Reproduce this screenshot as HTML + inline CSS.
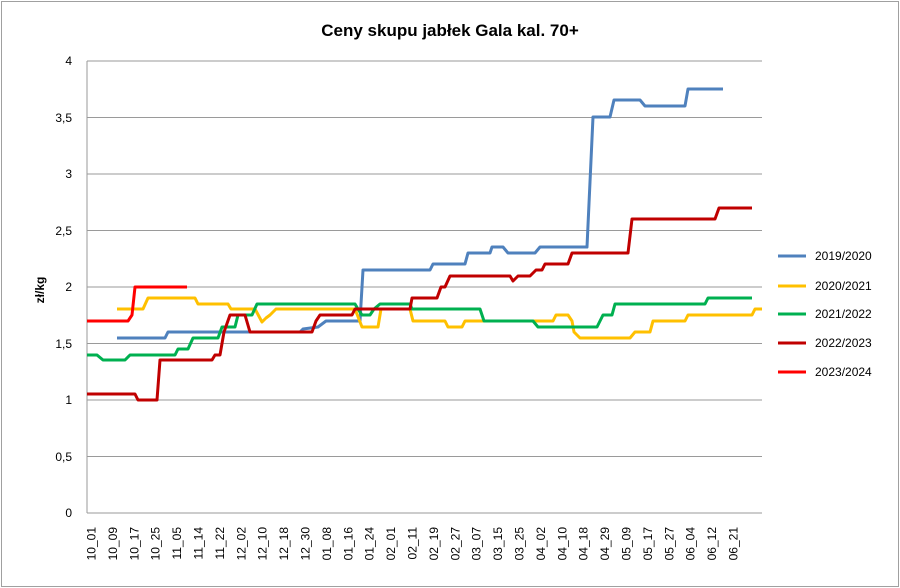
<!DOCTYPE html><html><head><style>body{margin:0;background:#fff}svg{display:block;font-family:"Liberation Sans",sans-serif}</style></head><body>
<svg width="900" height="588" viewBox="0 0 900 588">
<rect x="1.5" y="1.5" width="897" height="585" fill="#fff" stroke="#a0a0a0"/>
<text x="450" y="36" text-anchor="middle" font-size="17" font-weight="bold">Ceny skupu jabłek Gala kal. 70+</text>
<g stroke="#9a9a9a" stroke-width="1">
<line x1="87" y1="61" x2="762" y2="61"/><line x1="87" y1="117.5" x2="762" y2="117.5"/><line x1="87" y1="174" x2="762" y2="174"/><line x1="87" y1="230.5" x2="762" y2="230.5"/><line x1="87" y1="287" x2="762" y2="287"/><line x1="87" y1="343.5" x2="762" y2="343.5"/><line x1="87" y1="400" x2="762" y2="400"/><line x1="87" y1="456.5" x2="762" y2="456.5"/><line x1="87" y1="513" x2="762" y2="513"/><line x1="87" y1="61" x2="87" y2="513"/>
</g>
<g font-size="12" text-anchor="end">
<text x="72" y="65">4</text><text x="72" y="122">3,5</text><text x="72" y="178">3</text><text x="72" y="235">2,5</text><text x="72" y="291">2</text><text x="72" y="348">1,5</text><text x="72" y="404">1</text><text x="72" y="461">0,5</text><text x="72" y="517">0</text>
</g>
<text transform="translate(44,290) rotate(-90)" text-anchor="middle" font-size="12" font-weight="bold">zł/kg</text>
<g font-size="12" text-anchor="end">
<text transform="translate(95.5,527) rotate(-90)">10_01</text><text transform="translate(116.9,527) rotate(-90)">10_09</text><text transform="translate(138.3,527) rotate(-90)">10_17</text><text transform="translate(159.7,527) rotate(-90)">10_25</text><text transform="translate(181.1,527) rotate(-90)">11_05</text><text transform="translate(202.5,527) rotate(-90)">11_14</text><text transform="translate(223.9,527) rotate(-90)">11_22</text><text transform="translate(245.3,527) rotate(-90)">12_02</text><text transform="translate(266.7,527) rotate(-90)">12_10</text><text transform="translate(288.1,527) rotate(-90)">12_18</text><text transform="translate(309.5,527) rotate(-90)">12_30</text><text transform="translate(330.9,527) rotate(-90)">01_08</text><text transform="translate(352.3,527) rotate(-90)">01_16</text><text transform="translate(373.7,527) rotate(-90)">01_24</text><text transform="translate(395.1,527) rotate(-90)">02_01</text><text transform="translate(416.5,527) rotate(-90)">02_11</text><text transform="translate(437.9,527) rotate(-90)">02_19</text><text transform="translate(459.3,527) rotate(-90)">02_27</text><text transform="translate(480.7,527) rotate(-90)">03_07</text><text transform="translate(502.1,527) rotate(-90)">03_15</text><text transform="translate(523.5,527) rotate(-90)">03_25</text><text transform="translate(544.9,527) rotate(-90)">04_02</text><text transform="translate(566.3,527) rotate(-90)">04_10</text><text transform="translate(587.7,527) rotate(-90)">04_18</text><text transform="translate(609.1,527) rotate(-90)">04_29</text><text transform="translate(630.5,527) rotate(-90)">05_09</text><text transform="translate(651.9,527) rotate(-90)">05_17</text><text transform="translate(673.3,527) rotate(-90)">05_27</text><text transform="translate(694.7,527) rotate(-90)">06_04</text><text transform="translate(716.1,527) rotate(-90)">06_12</text><text transform="translate(737.5,527) rotate(-90)">06_21</text>
</g>
<g fill="none" stroke-width="3" stroke-linejoin="round">
<polyline stroke="#4f81bd" points="117,338 165,338 168,332 300,332 303,329 318,327 326,321 360,321 363,270 430,270 433,264 465,264 468,253 490,253 492,247 503,247 508,253 535,253 540,247 587,247 593,117 610,117 614,100 640,100 645,106 685,106 688,89 723,89"/>
<polyline stroke="#ffc000" points="117,309 143,309 148,298 195,298 198,304 228,304 231,309 255,309 262,322 266,318 270,315 276,309 355,309 362,327 378,327 381,309 410,309 413,321 445,321 448,327 462,327 465,321 553,321 556,315 568,315 572,321 574,332 580,338 630,338 635,332 650,332 653,321 685,321 688,315 752,315 755,309 762,309"/>
<polyline stroke="#00b050" points="87,355 97,355 103,360 125,360 130,355 175,355 178,349 188,349 193,338 218,338 222,327 235,327 238,315 252,315 257,304 355,304 358,309 362,315 370,315 374,309 380,304 410,304 412,309 480,309 484,321 533,321 538,327 597,327 603,315 612,315 615,304 705,304 708,298 752,298"/>
<polyline stroke="#c00000" points="87,394 135,394 138,400 157,400 160,360 212,360 215,355 220,355 224,332 230,315 245,315 250,332 312,332 316,321 320,315 352,315 355,309 410,309 412,298 437,298 441,287 445,287 450,276 510,276 513,281 518,276 530,276 536,270 542,270 545,264 568,264 572,253 628,253 632,219 715,219 719,208 752,208"/>
<polyline stroke="#ff0000" points="87,321 128,321 132,315 135,287 187,287"/>
</g>
<g stroke-width="3">
<line x1="778" y1="256" x2="806" y2="256" stroke="#4f81bd"/><line x1="778" y1="286" x2="806" y2="286" stroke="#ffc000"/><line x1="778" y1="314" x2="806" y2="314" stroke="#00b050"/><line x1="778" y1="343" x2="806" y2="343" stroke="#c00000"/><line x1="778" y1="372" x2="806" y2="372" stroke="#ff0000"/>
</g>
<g font-size="12">
<text x="815" y="260">2019/2020</text><text x="815" y="290">2020/2021</text><text x="815" y="318">2021/2022</text><text x="815" y="347">2022/2023</text><text x="815" y="376">2023/2024</text>
</g>
</svg></body></html>
